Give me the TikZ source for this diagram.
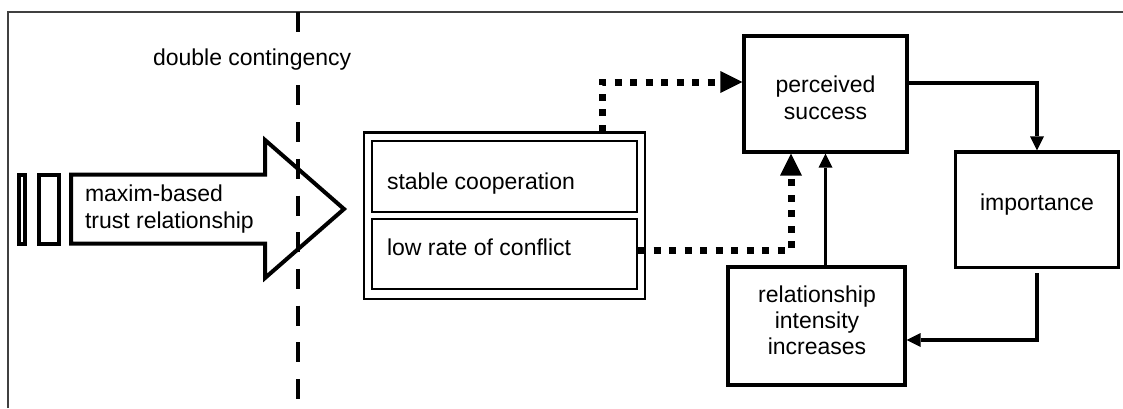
\documentclass[tikz,border=0pt]{standalone}
\usepackage{fontspec}
\setmainfont{Liberation Sans}
\usetikzlibrary{arrows.meta,calc}
% stacked lines whose baseline is the first line's baseline
\newcommand{\txtlines}[2][c]{\begin{tabular}[t]{@{}#1@{}}#2\end{tabular}}

\begin{document}
\begin{tikzpicture}[x=1pt,y=-1pt,
  txt/.style={font=\fontsize{23}{27}\selectfont, inner sep=0pt, outer sep=0pt},
  thickbox/.style={draw, line width=3.2pt, inner sep=0pt},
  thinbox/.style={draw, line width=#1, inner sep=0pt},
  frameline/.style={line width=1.5pt, draw=black!75},
  borderline/.style={line width=4.5pt, dash pattern=on 20pt off 16.7pt},
  solidarrow/.style={line width=3.6pt, -{Triangle[length=14pt,width=14pt,line width=0pt]}},
  dotarrow/.style={line width=7pt, dash pattern=on 7pt off 8.5pt,
    -{Triangle[length=22pt,width=22pt,line width=0pt]}},
]
\useasboundingbox (0,0) rectangle (1123,408);

% open frame
\coordinate (fbl) at (8,408);
\coordinate (ftl) at (8,12);
\coordinate (ftr) at (1123,12);
\draw[frameline] (fbl) -- (ftl) -- (ftr);

% boundary of double contingency
\coordinate (dtop) at (298,12);
\coordinate (dbot) at (298,399);
\draw[borderline] (dtop) -- (dbot);
\node[txt, anchor=base west, fill=white, inner ysep=4pt] (dc) at (153,65) {double contingency};

% broad arrow with its two trailing bars
\begin{scope}[line width=4pt, miter limit=10]
  \draw (19.3,174.5) rectangle (25.3,243.5);
  \draw (39.3,174.5) rectangle (59,243.5);
  \draw (71,174.5) -- (265,174.5) -- (265,140) -- (344,209) -- (265,278)
        -- (265,243.5) -- (71,243.5) -- cycle;
\end{scope}
\node[txt, anchor=base west] (trust) at (85,201)
  {\txtlines[l]{maxim-based\\trust relationship}};

% grouped outcomes
\node[thinbox=2.6pt, minimum width=281pt, minimum height=166.5pt] (grp) at (504.5,215.75) {};
\node[thinbox=2pt, minimum width=265pt, minimum height=71pt] (in1) at (504.5,176.5) {};
\node[thinbox=2pt, minimum width=265pt, minimum height=70pt] (in2) at (504.5,254) {};
\node[txt, anchor=base west] (t1) at (387,189) {stable cooperation};
\node[txt, anchor=base west] (t2) at (387,255) {low rate of conflict};

% feedback loop boxes
\node[thickbox, minimum width=163pt, minimum height=116pt] (perc) at (825.5,94) {};
\node[txt, anchor=base] (perct) at (825.5,92) {\txtlines{perceived\\success}};
\node[thickbox, minimum width=163pt, minimum height=115.5pt] (imp) at (1037,209.8) {};
\node[txt, anchor=base] (impt) at (1037,210) {importance};
\node[thickbox, minimum width=177pt, minimum height=118pt] (rel) at (816.5,326) {};
\node[txt, anchor=base, font=\fontsize{23}{26}\selectfont] (relt) at (817,302)
  {\txtlines{relationship\\intensity\\increases}};

% solid connectors
\draw[solidarrow] ([yshift=11pt]perc.east) -| (imp.north);
\draw[solidarrow, shorten <=4pt] (imp.south) |- ([yshift=-14pt]rel.east);
\draw[solidarrow] (rel.north -| perc.south) -- (perc.south);

% dotted connectors
\coordinate (d1) at ($(in1.north east)+(-36,0)$);
\draw[dotarrow, dash phase=7pt] (d1) |- ([yshift=12pt]perc.west);
\draw[dotarrow] ([yshift=4pt]in2.east) -| ([xshift=-34.5pt]perc.south);
\end{tikzpicture}
\end{document}
